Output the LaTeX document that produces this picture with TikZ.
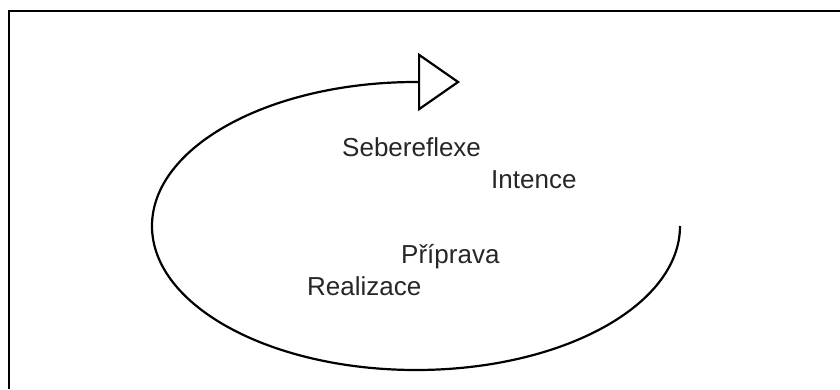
\documentclass[tikz,border=0pt]{standalone}
\usepackage{fontspec}
\setmainfont{Liberation Sans}
\usetikzlibrary{arrows.meta}

\begin{document}
\begin{tikzpicture}[x=1pt, y=1pt,
            label/.style={inner sep=0pt, anchor=base west, text=black!85, font=\fontsize{26}{31}\selectfont},
            cycle/.style={line width=2.2pt, -{Triangle[open, length=42pt, width=58pt, line width=2.2pt]}}]
          \useasboundingbox (0,0) rectangle (840,389);
          \draw[line width=2.6pt] (9,0) |- (840,378);
          \node[label] (self) at (342,233) {Sebereflexe};
          \node[label] (int) at (491,201) {Intence};
          \node[label] (prep) at (401,126) {Příprava};
          \node[label] (real) at (307,94) {Realizace};
          \coordinate (start) at (680,163);
          \coordinate (tip) at (460,307);
          \draw[cycle] (start) arc[start angle=0, end angle=-270, x radius=264, y radius=144] -- (tip);
        \end{tikzpicture}
\end{document}
